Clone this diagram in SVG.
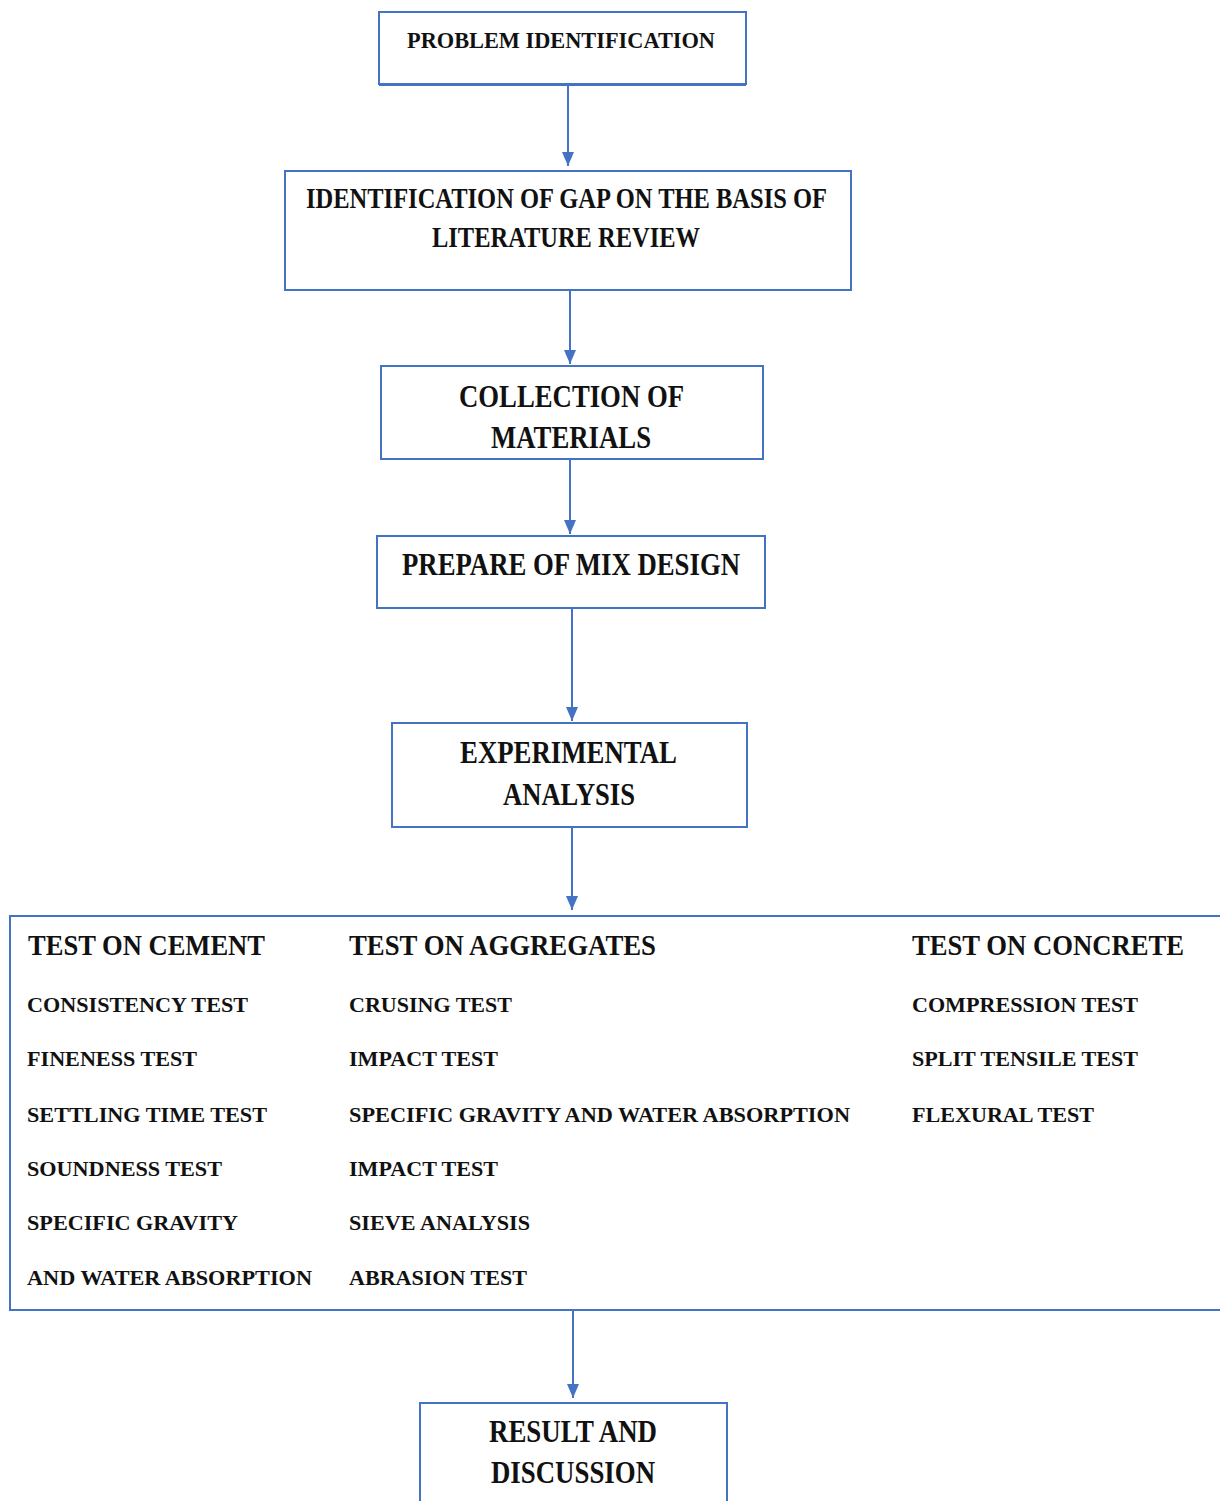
<svg xmlns="http://www.w3.org/2000/svg" width="1220" height="1501" viewBox="0 0 1220 1501">
<style>
.box{fill:#fff;stroke:#4472C4;stroke-width:2}
.conn{stroke:#4472C4;stroke-width:2;fill:none;marker-end:url(#arr)}
text{font-family:"Liberation Serif","Times New Roman",serif;font-weight:bold;fill:#111}
.t24{font-size:24px}
.t29{font-size:29px}
.t32{font-size:32px}
.hdr{font-size:30px}
.item{font-size:21px}
</style>
<defs>
<marker id="arr" markerWidth="14" markerHeight="12" refX="14" refY="6" orient="auto" markerUnits="userSpaceOnUse" viewBox="0 0 14 12">
<path d="M0,0 L14,6 L0,12 Z" fill="#4472C4"/>
</marker>
</defs>
<rect width="1220" height="1501" fill="#fff"/>
<g id="connectors">
<line class="conn" x1="568" y1="86" x2="568" y2="166"/>
<line class="conn" x1="570" y1="290" x2="570" y2="364"/>
<line class="conn" x1="570" y1="459" x2="570" y2="534"/>
<line class="conn" x1="572" y1="608" x2="572" y2="721"/>
<line class="conn" x1="572" y1="827" x2="572" y2="910"/>
<line class="conn" x1="573" y1="1310" x2="573" y2="1398"/>
</g>
<g id="problem">
<rect class="box" x="379" y="12" width="367" height="72"/>
<line x1="379" y1="84.5" x2="746" y2="84.5" stroke="#4472C4" stroke-width="3"/>
<text class="t24" x="407" y="48" textLength="308" lengthAdjust="spacingAndGlyphs">PROBLEM IDENTIFICATION</text>
</g>
<g id="gap">
<rect class="box" x="285" y="171" width="566" height="119"/>
<text class="t29" x="306" y="208" textLength="521" lengthAdjust="spacingAndGlyphs">IDENTIFICATION OF GAP ON THE BASIS OF</text>
<text class="t29" x="432" y="247" textLength="268" lengthAdjust="spacingAndGlyphs">LITERATURE REVIEW</text>
</g>
<g id="collection">
<rect class="box" x="381" y="366" width="382" height="93"/>
<text class="t32" x="459" y="407" textLength="225" lengthAdjust="spacingAndGlyphs">COLLECTION OF</text>
<text class="t32" x="491" y="448" textLength="160" lengthAdjust="spacingAndGlyphs">MATERIALS</text>
</g>
<g id="mixdesign">
<rect class="box" x="377" y="536" width="388" height="72"/>
<text class="t32" x="402" y="575" textLength="338" lengthAdjust="spacingAndGlyphs">PREPARE OF MIX DESIGN</text>
</g>
<g id="experimental">
<rect class="box" x="392" y="723" width="355" height="104"/>
<text class="t32" x="460" y="763" textLength="217" lengthAdjust="spacingAndGlyphs">EXPERIMENTAL</text>
<text class="t32" x="503" y="805" textLength="132" lengthAdjust="spacingAndGlyphs">ANALYSIS</text>
</g>
<g id="tests">
<rect class="box" x="10" y="916" width="1230" height="394"/>
<text class="hdr" x="28" y="955" textLength="237" lengthAdjust="spacingAndGlyphs">TEST ON CEMENT</text>
<text class="hdr" x="349" y="955" textLength="307" lengthAdjust="spacingAndGlyphs">TEST ON AGGREGATES</text>
<text class="hdr" x="912" y="955" textLength="272" lengthAdjust="spacingAndGlyphs">TEST ON CONCRETE</text>
<text class="item" x="27" y="1012" textLength="221" lengthAdjust="spacingAndGlyphs">CONSISTENCY TEST</text>
<text class="item" x="27" y="1066" textLength="170" lengthAdjust="spacingAndGlyphs">FINENESS TEST</text>
<text class="item" x="27" y="1122" textLength="240" lengthAdjust="spacingAndGlyphs">SETTLING TIME TEST</text>
<text class="item" x="27" y="1176" textLength="195" lengthAdjust="spacingAndGlyphs">SOUNDNESS TEST</text>
<text class="item" x="27" y="1230" textLength="211" lengthAdjust="spacingAndGlyphs">SPECIFIC GRAVITY</text>
<text class="item" x="27" y="1285" textLength="285" lengthAdjust="spacingAndGlyphs">AND WATER ABSORPTION</text>
<text class="item" x="349" y="1012" textLength="163" lengthAdjust="spacingAndGlyphs">CRUSING TEST</text>
<text class="item" x="349" y="1066" textLength="149" lengthAdjust="spacingAndGlyphs">IMPACT TEST</text>
<text class="item" x="349" y="1122" textLength="501" lengthAdjust="spacingAndGlyphs">SPECIFIC GRAVITY AND WATER ABSORPTION</text>
<text class="item" x="349" y="1176" textLength="149" lengthAdjust="spacingAndGlyphs">IMPACT TEST</text>
<text class="item" x="349" y="1230" textLength="181" lengthAdjust="spacingAndGlyphs">SIEVE ANALYSIS</text>
<text class="item" x="349" y="1285" textLength="178" lengthAdjust="spacingAndGlyphs">ABRASION TEST</text>
<text class="item" x="912" y="1012" textLength="226" lengthAdjust="spacingAndGlyphs">COMPRESSION TEST</text>
<text class="item" x="912" y="1066" textLength="226" lengthAdjust="spacingAndGlyphs">SPLIT TENSILE TEST</text>
<text class="item" x="912" y="1122" textLength="182" lengthAdjust="spacingAndGlyphs">FLEXURAL TEST</text>
</g>
<g id="result">
<rect class="box" x="420" y="1403" width="307" height="120"/>
<text class="t32" x="489" y="1442" textLength="168" lengthAdjust="spacingAndGlyphs">RESULT AND</text>
<text class="t32" x="491" y="1483" textLength="164" lengthAdjust="spacingAndGlyphs">DISCUSSION</text>
</g>
</svg>
